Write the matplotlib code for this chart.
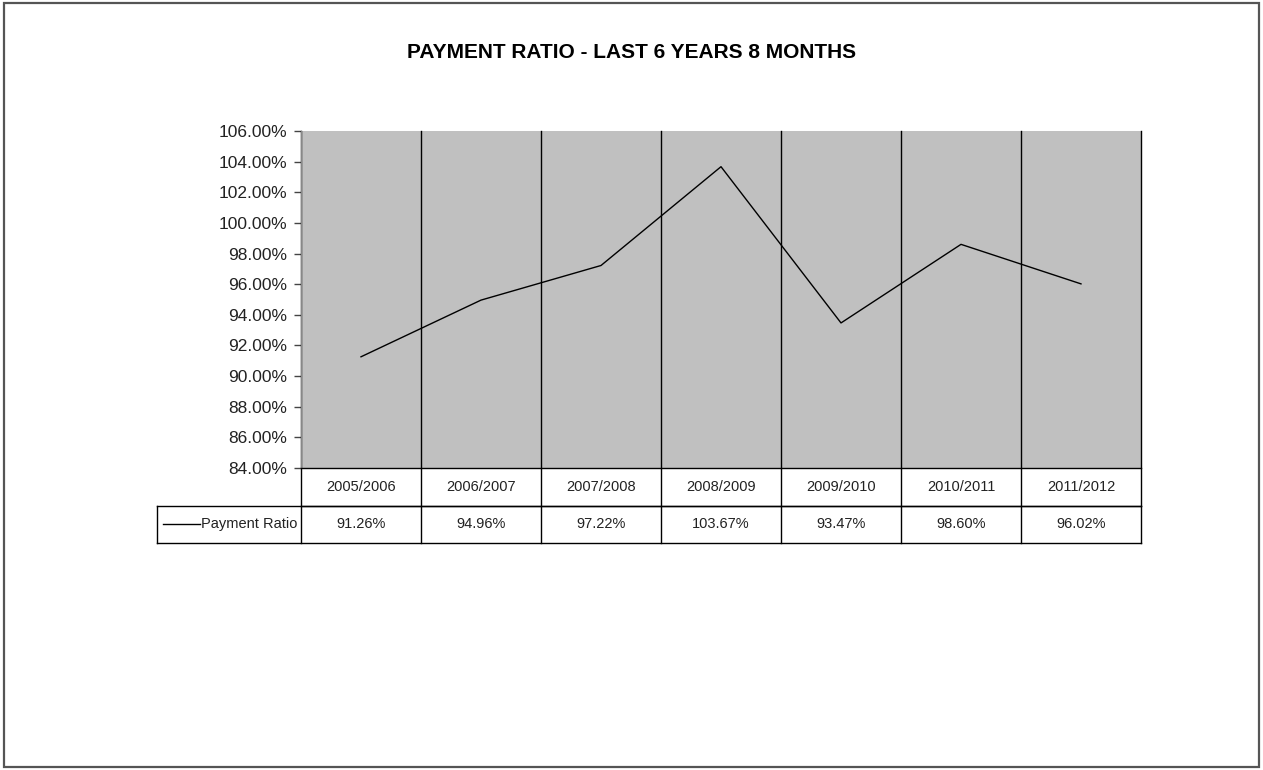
import matplotlib
matplotlib.use("Agg")
import matplotlib.pyplot as plt
from matplotlib.patches import Rectangle
from matplotlib.font_manager import findfont, FontProperties

years = ["2005/2006", "2006/2007", "2007/2008", "2008/2009",
         "2009/2010", "2010/2011", "2011/2012"]
ratio = [91.26, 94.96, 97.22, 103.67, 93.47, 98.60, 96.02]
series_name = "Payment Ratio"
title = "PAYMENT RATIO - LAST 6 YEARS 8 MONTHS"
yticks = list(range(84, 107, 2))

# narrow sans if available
fam = "Liberation Sans Narrow"
try:
    findfont(FontProperties(family=fam), fallback_to_default=False)
except Exception:
    fam = "Liberation Sans"
plt.rcParams["font.family"] = [fam, "DejaVu Sans"]

W, H = 1263, 770
fig = plt.figure(figsize=(W / 100, H / 100), dpi=100)

# outer frame
fig.patches.append(Rectangle((4 / W, 3 / H), 1255 / W, 764 / H, transform=fig.transFigure,
                             fill=False, edgecolor="#555555", linewidth=1.6))

x0, x1, ytop, ybot = 301, 1141, 131, 468
ax = fig.add_axes([x0 / W, 1 - ybot / H, (x1 - x0) / W, (ybot - ytop) / H])
ax.set_facecolor("#C0C0C0")

n = len(years)
xs = list(range(n))
ax.plot(xs, ratio, color="black", linewidth=1.0)
ax.set_xlim(-0.5, n - 0.5)
ax.set_ylim(84, 106)
ax.set_yticks(yticks)
ax.set_yticklabels([f"{v:.2f}%" for v in yticks], fontsize=12.5, color="#222222")
ax.set_xticks([])
ax.tick_params(axis="y", length=5, width=1, color="#444444", pad=5)
for side in ["top", "right"]:
    ax.spines[side].set_visible(False)
ax.spines["left"].set_color("#888888")
ax.spines["bottom"].set_color("black")
ax.spines["bottom"].set_linewidth(1.0)

# data table below the plot
row_h = 37.5 / (ybot - ytop)
lab_left = -0.5 - (x0 - 157) / 120
tr = ax.get_xaxis_transform()
kw = dict(transform=tr, clip_on=False, color="black", linewidth=1.0)
for i in range(n + 1):
    ax.plot([i - 0.5, i - 0.5], [-2 * row_h, 1], **kw)
ax.plot([-0.5, n - 0.5], [-row_h, -row_h], **kw)
ax.plot([lab_left, n - 0.5], [-row_h, -row_h], **kw)
ax.plot([lab_left, n - 0.5], [-2 * row_h, -2 * row_h], **kw)
ax.plot([lab_left, lab_left], [-2 * row_h, -row_h], **kw)
for i, (yr, v) in enumerate(zip(years, ratio)):
    ax.text(i, -0.5 * row_h, yr, transform=tr, ha="center", va="center",
            fontsize=10.5, color="#222222")
    ax.text(i, -1.5 * row_h, f"{v:.2f}%", transform=tr, ha="center", va="center",
            fontsize=10.5, color="#222222")
ax.plot([lab_left + 0.05, lab_left + 0.36], [-1.5 * row_h, -1.5 * row_h], **kw)
ax.text(-0.53, -1.5 * row_h, series_name, transform=tr, ha="right", va="center",
        fontsize=10.5, color="#222222")

fig.text(632 / W, 1 - 52 / H, title, ha="center", va="center",
         fontsize=15, fontweight="bold", color="black")

fig.savefig("out.png", dpi=100)
